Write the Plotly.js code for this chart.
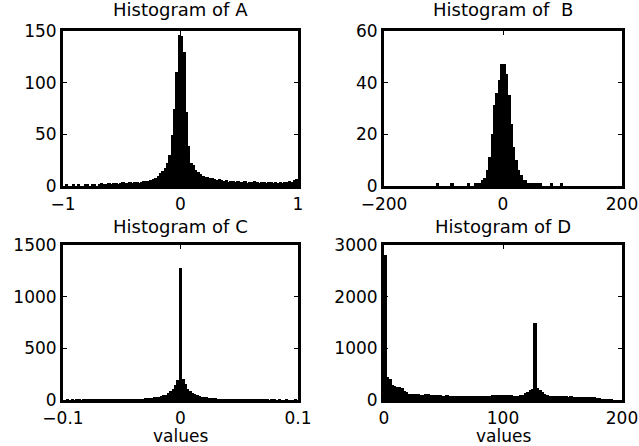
<!DOCTYPE html>
<html><head><meta charset="utf-8">
<script src="https://cdn.plot.ly/plotly-3.0.1.min.js"></script>
<style>html,body{margin:0;padding:0;background:#fff}
#chart .bars path{shape-rendering:crispEdges}</style>
</head><body><div id="chart" style="width:639px;height:446px"></div>
<script>
// Histogram of A: 100 bins of width 0.02 starting at centre -0.99
const startA = -0.99, widthA = 0.02;
const countsA = [0,1,0,0,1,0,1,0,0,1,1,0,1,1,0,1,2,1,1,2,
  1,2,2,1,2,3,2,2,3,2,3,3,2,3,4,
  4,4,5,6,7,9,12,14,17,22,
  30,49,74,110,146,
  145,129,71,38,22,
  20,15,13,11,9,8,8,7,7,6,
  5,6,5,4,5,3,4,4,3,4,3,3,4,2,3,3,4,3,2,3,3,2,3,3,2,3,2,3,2,3,3,4,3,5,6];
// Histogram of B: 100 bins of width 4 starting at centre -198
const startB = -198, widthB = 4;
const countsB = [0,0,0,0,0,0,0,0,0,0,0,0,0,0,0,0,0,0,0,0,0,0,
  1,0,0,0,0,0,1,0,0,0,0,0,0,1,0,0,1,1,
  1,2,3,6,11,20,31,36,41,47,
  47,43,35,24,15,10,6,4,2,2,
  1,1,1,1,1,1,0,0,0,0,1,0,0,0,1,
  0,0,0,0,0,0,0,0,0,0,0,0,0,0,0,0,0,0,0,0,0,0,0,0,0];
// Histogram of C: 101 bins of width 0.002 starting at centre -0.1
const startC = -0.1, widthC = 0.002;
const countsC = [0,0,1,0,1,0,1,1,0,1,1,1,2,1,1,2,2,2,2,3,
  3,3,4,4,4,5,5,5,6,6,
  6,7,7,8,9,
  10,11,13,16,20,23,27,33,40,48,62,78,97,145,192,
  1270,
  195,150,100,80,65,50,42,35,28,24,20,17,14,12,10,
  9,8,7,6,6,
  5,5,4,4,4,3,3,3,2,2,
  2,2,1,2,1,1,1,0,1,1,0,1,0,0,1,0,0,0,1,0];
// Histogram of D: 100 bins of width 2 starting at centre 1
const startD = 1, widthD = 2;
const countsD = [2800,440,400,290,270,250,245,230,170,140,115,105,100,98,97,95,95,98,100,90,
  82,80,78,80,77,76,78,75,76,74,73,75,74,72,73,74,72,71,73,70,72,74,71,73,75,78,
  82,88,92,90,85,88,80,78,76,75,76,80,95,120,150,185,210,1480,230,190,140,100,80,70,
  65,63,62,64,60,61,60,58,60,57,58,56,55,57,54,52,50,48,
  40,35,25,15,8,4,2,1,0,0,0,0];

const titles = ['Histogram of A', 'Histogram of \u00a0B', 'Histogram of C', 'Histogram of D'];
const xTicks = [[-1,0,1],[-200,0,200],[-0.1,0,0.1],[0,100,200]];
const yTicks = [[0,50,100,150],[0,20,40,60],[0,500,1000,1500],[0,1000,2000,3000]];
const xLabel = 'values';

const FONT = 'DejaVu Sans, Arial, sans-serif';
const W = 639, H = 446;
const px = v => v / W, py = v => 1 - v / H;
const xDom = [[px(63), px(298)], [px(384), px(622)], [px(63), px(298)], [px(384), px(622)]];
const yDom = [[py(186), py(31)], [py(186), py(31)], [py(400), py(245)], [py(400), py(245)]];

const sets = [[startA,widthA,countsA],[startB,widthB,countsB],[startC,widthC,countsC],[startD,widthD,countsD]];
const traces = sets.map((s, i) => ({
  type: 'bar', x0: s[0], dx: s[1], y: s[2], width: s[1],
  marker: {color: '#000', line: {color: '#000', width: 1}},
  xaxis: i ? 'x' + (i + 1) : 'x', yaxis: i ? 'y' + (i + 1) : 'y',
  hoverinfo: 'x+y', showlegend: false
}));

const tf = {family: FONT, size: 17, color: '#000'};
const layout = {
  width: W, height: H, margin: {l: 0, r: 0, t: 0, b: 0},
  paper_bgcolor: '#fff', plot_bgcolor: '#fff', bargap: 0,
  font: tf, showlegend: false, annotations: []
};
for (let i = 0; i < 4; i++) {
  const sx = i ? String(i + 1) : '';
  const xt = xTicks[i], yt = yTicks[i];
  const xc = (xDom[i][0] + xDom[i][1]) / 2;
  layout['xaxis' + sx] = {
    domain: xDom[i], anchor: 'y' + sx, range: [xt[0], xt[xt.length - 1]],
    tickvals: xt, ticks: 'inside', ticklen: 4, tickwidth: 1, tickcolor: '#000',
    showline: true, linewidth: 3, linecolor: '#000', mirror: 'ticks',
    showgrid: false, zeroline: false, tickfont: tf,
    ticklabelstandoff: 1, ticklabeloverflow: 'allow'
  };
  layout['yaxis' + sx] = {
    domain: yDom[i], anchor: 'x' + sx, range: [yt[0], yt[yt.length - 1]],
    tickvals: yt, ticks: 'inside', ticklen: 4, tickwidth: 1, tickcolor: '#000',
    showline: true, linewidth: 3, linecolor: '#000', mirror: 'ticks',
    showgrid: false, zeroline: false, tickfont: tf,
    ticklabelstandoff: 0, ticklabeloverflow: 'allow'
  };
  layout.annotations.push({
    text: titles[i], xref: 'paper', yref: 'paper',
    x: xc, y: i < 2 ? py(10) : py(226),
    xanchor: 'center', yanchor: 'middle', showarrow: false,
    font: {family: FONT, size: 18, color: '#000'}
  });
  if (i >= 2) {
    layout.annotations.push({
      text: xLabel, xref: 'paper', yref: 'paper', x: xc, y: py(436),
      xanchor: 'center', yanchor: 'middle', showarrow: false, font: tf
    });
  }
}
Plotly.newPlot('chart', traces, layout, {staticPlot: true, displayModeBar: false});
</script></body></html>
